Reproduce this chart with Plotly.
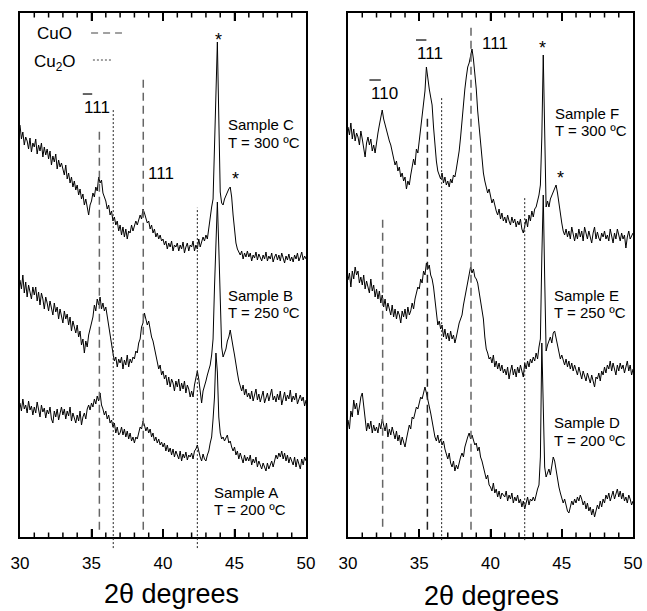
import numpy as np
import plotly.graph_objects as go

# 2-theta grid (degrees)
two_theta = np.round(np.arange(30.0, 50.0001, 0.1), 1).tolist()

# ---- Left panel: intensities (arb. units, offset per sample) ----
sample_c = [412, 398, 405, 392, 400, 396, 388, 399, 385, 394,
            390, 398, 383, 392, 386, 394, 380, 390, 382, 388,
            378, 386, 372, 381, 375, 383, 368, 377, 370, 374,
            368, 362, 372, 358, 364, 354, 360, 350, 356, 347,
            352, 342, 348, 338, 343, 332, 338, 328, 322, 332,
            336, 344, 340, 350, 346, 360, 354, 357, 344, 340,
            336, 328, 332, 322, 326, 316, 320, 312, 316, 306,
            312, 302, 310, 300, 308, 298, 306, 304, 312, 306,
            310, 316, 312, 318, 322, 318, 328, 324, 320, 314,
            316, 308, 312, 304, 308, 300, 304, 298, 302, 296,
            298, 292, 296, 288, 294, 290, 296, 286, 292, 290,
            294, 286, 292, 288, 295, 284, 290, 294, 286, 292,
            290, 296, 286, 292, 288, 298, 290, 294, 300, 296,
            302, 298, 310, 318, 330, 338, 400, 462, 495, 420,
            345, 334, 332, 338, 342, 346, 348, 350, 340, 322,
            305, 294, 288, 284, 282, 286, 278, 284, 280, 286,
            280, 284, 276, 282, 279, 285, 277, 283, 279, 276,
            282, 278, 285, 276, 281, 278, 284, 275, 280, 283,
            277, 282, 276, 284, 279, 274, 281, 277, 283, 276,
            280, 275, 282, 278, 284, 276, 280, 285, 277, 281,
            278]

sample_b = [257, 248, 262, 244, 255, 240, 252, 246, 238, 250,
            242, 250, 236, 245, 232, 244, 238, 228, 240, 234,
            226, 236, 230, 222, 234, 225, 230, 218, 228, 222,
            214, 226, 218, 223, 212, 220, 206, 216, 210, 204,
            212, 200, 206, 192, 198, 184, 196, 190, 202, 208,
            214, 220, 232, 226, 238, 232, 240, 228, 234, 226,
            230, 220, 212, 200, 192, 184, 176, 180, 170, 178,
            174, 180, 168, 177, 172, 182, 170, 178, 174, 180,
            178, 186, 184, 194, 198, 210, 214, 224, 218, 212,
            216, 206, 200, 196, 188, 182, 176, 168, 172, 162,
            166, 158, 162, 152, 160, 150, 158, 154, 146, 156,
            150, 158, 146, 154, 148, 156, 144, 152, 148, 140,
            146, 140, 152, 160, 166, 158, 142, 134, 146, 150,
            156, 162, 166, 172, 182, 198, 250, 300, 335, 290,
            230, 190, 180, 184, 188, 196, 200, 207, 200, 190,
            182, 170, 164, 156, 150, 146, 152, 142, 148, 140,
            144, 138, 146, 136, 142, 148, 137, 143, 135, 141,
            146, 134, 140, 144, 136, 142, 148, 137, 141, 135,
            143, 137, 146, 132, 140, 145, 136, 142, 138, 147,
            135, 141, 137, 144, 133, 139, 142, 136, 140, 131,
            137]

sample_a = [134, 126, 138, 128, 132, 124, 136, 127, 131, 122,
            130, 124, 135, 126, 120, 132, 125, 129, 119, 127,
            123, 130, 118, 114, 126, 120, 128, 117, 124, 130,
            122, 128, 118, 126, 121, 130, 116, 124, 119, 114,
            122, 116, 126, 112, 120, 124, 118, 128, 132, 127,
            134, 130, 138, 133, 141, 136, 144, 132, 128, 122,
            126, 118, 122, 114, 117, 110, 114, 104, 110, 102,
            104, 110, 102, 108, 100, 106, 98, 104, 96, 100,
            94, 100, 98, 106, 110, 108, 116, 112, 106, 110,
            104, 108, 100, 104, 96, 100, 94, 98, 92, 95,
            90, 94, 86, 92, 85, 89, 82, 88, 80, 86,
            82, 78, 86, 76, 83, 79, 85, 77, 82, 80,
            84, 78, 86, 88, 92, 84, 80, 76, 83, 78,
            76, 82, 86, 94, 100, 118, 140, 184, 165, 120,
            104, 98, 100, 96, 100, 102, 94, 96, 90, 86,
            90, 82, 86, 78, 84, 80, 74, 82, 76, 80,
            76, 82, 72, 78, 74, 80, 70, 76, 72, 68,
            74, 70, 66, 74, 68, 72, 76, 70, 78, 82,
            78, 84, 80, 86, 78, 84, 76, 82, 74, 80,
            76, 72, 80, 70, 78, 74, 68, 78, 72, 80,
            76]

# ---- Right panel ----
sample_f = [410, 402, 414, 398, 408, 396, 404, 400, 392, 406,
            398, 388, 380, 394, 400, 392, 398, 386, 392, 384,
            396, 404, 412, 420, 427, 418, 412, 406, 400, 396,
            392, 386, 380, 372, 376, 366, 370, 360, 364, 356,
            360, 348, 356, 352, 362, 370, 378, 372, 388, 384,
            396, 404, 418, 428, 446, 470, 456, 448, 440, 432,
            410, 392, 376, 366, 362, 358, 364, 354, 360, 352,
            356, 350, 358, 354, 362, 360, 368, 376, 386, 400,
            418, 436, 448, 460, 470, 474, 480, 488, 478, 466,
            448, 426, 410, 392, 378, 364, 356, 350, 344, 348,
            340, 334, 338, 330, 326, 322, 328, 318, 324, 316,
            320, 314, 322, 316, 312, 320, 314, 318, 310, 316,
            312, 318, 308, 304, 312, 318, 310, 322, 316, 326,
            320, 328, 330, 336, 342, 352, 400, 482, 390, 330,
            336, 330, 338, 342, 346, 350, 352, 344, 332, 322,
            314, 306, 302, 308, 300, 306, 298, 310, 302, 296,
            304, 298, 308, 300, 306, 296, 310, 302, 298, 306,
            300, 294, 304, 310, 298, 305, 299, 296, 304, 300,
            306, 298, 302, 296, 308, 300, 294, 304, 298, 308,
            300, 296, 304, 298, 302, 289, 300, 306, 298, 302,
            304]

sample_e = [257, 264, 250, 266, 258, 270, 262, 266, 254, 260,
            252, 262, 248, 256, 250, 244, 258, 246, 252, 240,
            248, 238, 246, 234, 242, 230, 238, 226, 234, 228,
            222, 232, 220, 228, 218, 226, 222, 214, 226, 220,
            228, 218, 230, 222, 226, 234, 228, 238, 244, 250,
            248, 258, 254, 266, 262, 274, 268, 272, 262, 258,
            250, 236, 222, 212, 216, 208, 212, 200, 208, 198,
            204, 196, 206, 198, 202, 194, 200, 208, 214, 218,
            222, 232, 240, 248, 256, 262, 270, 264, 268, 260,
            258, 254, 246, 236, 226, 218, 200, 188, 184, 178,
            180, 174, 182, 170, 176, 168, 174, 166, 172, 164,
            168, 162, 170, 158, 166, 172, 162, 168, 160, 170,
            164, 172, 166, 160, 174, 168, 176, 170, 178, 174,
            180, 176, 184, 178, 190, 198, 280, 342, 260, 186,
            192, 196, 200, 194, 204, 206, 198, 192, 184, 178,
            182, 176, 172, 178, 170, 176, 168, 174, 166, 172,
            168, 162, 170, 164, 158, 166, 160, 156, 164, 158,
            154, 162, 156, 150, 160, 158, 164, 156, 166, 162,
            170, 164, 172, 168, 176, 166, 174, 168, 162, 172,
            166, 174, 168, 172, 164, 170, 176, 166, 172, 162,
            168]

sample_d = [117, 108, 126, 120, 137, 128, 134, 122, 130, 140,
            144, 130, 120, 106, 114, 108, 116, 104, 112, 106,
            110, 104, 114, 108, 118, 112, 106, 114, 100, 108,
            102, 110, 104, 98, 106, 96, 102, 92, 100, 94,
            90, 98, 104, 112, 108, 120, 118, 126, 130, 128,
            134, 140, 138, 146, 150, 144, 138, 130, 124, 116,
            106, 100, 96, 102, 94, 98, 92, 96, 88, 84,
            78, 84, 74, 70, 76, 66, 72, 68, 76, 80,
            84, 80, 90, 96, 100, 104, 98, 102, 96, 92,
            94, 86, 90, 80, 76, 70, 64, 58, 62, 52,
            50, 46, 54, 44, 48, 40, 46, 38, 44, 42,
            40, 46, 36, 42, 38, 44, 34, 40, 36, 42,
            34, 38, 30, 36, 28, 34, 40, 32, 38, 36,
            40, 36, 44, 48, 52, 80, 194, 140, 70, 60,
            64, 68, 62, 74, 80, 76, 66, 58, 50, 44,
            40, 34, 38, 30, 26, 24, 30, 36, 32, 38,
            34, 40, 36, 42, 38, 32, 36, 28, 34, 26,
            30, 22, 28, 20, 26, 32, 28, 36, 30, 38,
            34, 42, 38, 44, 36, 40, 46, 38, 42, 48,
            40, 46, 38, 44, 36, 40, 34, 42, 38, 32,
            36]

# reference peak positions (2-theta)
cuo_left = [35.55, 38.62]
cu2o_left = [36.52, 42.4]
cuo_right = [32.43, 35.57, 38.63]
cu2o_right = [36.57, 42.4]

tick_vals = [30, 35, 40, 45, 50]
major_inner_ticks = [35, 40, 45]
minor_inner_ticks = [31, 32, 33, 34, 36, 37, 38, 39, 41, 42, 43, 44, 46, 47, 48, 49]

FONT = "Arial"
Y_BOT, Y_TOP = 0.1211, 0.9787

fig = go.Figure()
for ys in (sample_c, sample_b, sample_a):
    fig.add_trace(go.Scatter(x=two_theta, y=ys, mode="lines",
                             line=dict(color="black", width=1),
                             xaxis="x", yaxis="y", showlegend=False))
for ys in (sample_f, sample_e, sample_d):
    fig.add_trace(go.Scatter(x=two_theta, y=ys, mode="lines",
                             line=dict(color="black", width=1),
                             xaxis="x2", yaxis="y2", showlegend=False))

shapes = []
def vline(xref, x, ytop, ybot, dash, color, width):
    shapes.append(dict(type="line", xref=xref, yref="paper", x0=x, x1=x,
                       y0=ybot, y1=ytop,
                       line=dict(color=color, width=width, dash=dash)))

CUO_DASH = "8px,5px"
CU2O_DOT = "2px,2px"
# left panel
vline("x", cuo_left[0], 0.787, 0.133, CUO_DASH, "#666666", 1.5)
vline("x", cuo_left[1], 0.874, 0.133, CUO_DASH, "#666666", 1.5)
vline("x", cu2o_left[0], 0.823, 0.103, CU2O_DOT, "#222222", 1)
vline("x", cu2o_left[1], 0.660, 0.103, CU2O_DOT, "#222222", 1)
# right panel
vline("x2", cuo_right[0], 0.648, 0.138, CUO_DASH, "#666666", 1.5)
vline("x2", cuo_right[1], 0.807, 0.133, CUO_DASH, "#222222", 1.5)
vline("x2", cuo_right[2], 0.959, 0.133, CUO_DASH, "#666666", 1.5)
vline("x2", cu2o_right[0], 0.841, 0.116, CU2O_DOT, "#222222", 1)
vline("x2", cu2o_right[1], 0.678, 0.116, CU2O_DOT, "#222222", 1)

# inward tick marks on top and bottom frame edges (placed through the x scales)
MAJ_LEN = 8 / 611
MIN_LEN = 4.5 / 611
for xr in ("x", "x2"):
    for v, ln in [(t, MAJ_LEN) for t in major_inner_ticks] + [(t, MIN_LEN) for t in minor_inner_ticks]:
        shapes.append(dict(type="line", xref=xr, yref="paper", x0=v, x1=v,
                           y0=Y_BOT, y1=Y_BOT + ln, line=dict(color="black", width=1.5)))
        shapes.append(dict(type="line", xref=xr, yref="paper", x0=v, x1=v,
                           y0=Y_TOP, y1=Y_TOP - ln, line=dict(color="black", width=1.5)))

# legend sample lines
shapes.append(dict(type="line", xref="x", yref="y", x0=34.97, x1=37.13, y0=504, y1=504,
                   line=dict(color="#444444", width=1.2, dash="7px,5px")))
shapes.append(dict(type="line", xref="x", yref="y", x0=35.1, x1=36.5, y0=477, y1=477,
                   line=dict(color="#444444", width=1, dash="2px,2px")))
# overbars for Miller indices
for xr, yr, a, b, h in [("x", "y", 34.39, 35.05, 443),
                        ("x2", "y2", 31.5, 32.3, 457),
                        ("x2", "y2", 34.77, 35.5, 497)]:
    shapes.append(dict(type="line", xref=xr, yref=yr, x0=a, x1=b, y0=h, y1=h,
                       line=dict(color="black", width=1.2)))

ann = []
def txt(xref, yref, x, y, s, size, xanchor="center"):
    ann.append(dict(xref=xref, yref=yref, x=x, y=y, text=s, showarrow=False,
                    xanchor=xanchor, yanchor="middle",
                    font=dict(family=FONT, size=size, color="black")))

# left panel labels
txt("x", "y", 32.38, 504, "CuO", 17)
txt("x", "y", 32.45, 474, "Cu<sub>2</sub>O", 17)
txt("x", "y", 35.4, 430, "111", 17)
txt("x", "y", 39.85, 364, "111", 17)
txt("x", "y", 43.85, 497, "*", 18)
txt("x", "y", 45.1, 358, "*", 18)
txt("x", "y", 44.41, 413, "Sample C", 15, "left")
txt("x", "y", 44.41, 395, "T = 300 ºC", 15, "left")
txt("x", "y", 44.41, 242, "Sample B", 15, "left")
txt("x", "y", 44.41, 225, "T = 250 ºC", 15, "left")
txt("x", "y", 43.43, 45, "Sample A", 15, "left")
txt("x", "y", 43.43, 28, "T = 200 ºC", 15, "left")
# right panel labels
txt("x2", "y2", 32.57, 444, "110", 17)
txt("x2", "y2", 35.75, 484, "111", 17)
txt("x2", "y2", 40.32, 494, "111", 17)
txt("x2", "y2", 43.67, 489, "*", 18)
txt("x2", "y2", 44.88, 359, "*", 18)
txt("x2", "y2", 44.37, 424, "Sample F", 15, "left")
txt("x2", "y2", 44.37, 407, "T = 300 ºC", 15, "left")
txt("x2", "y2", 44.29, 242, "Sample E", 15, "left")
txt("x2", "y2", 44.29, 225, "T = 250 ºC", 15, "left")
txt("x2", "y2", 44.29, 115, "Sample D", 15, "left")
txt("x2", "y2", 44.29, 97, "T = 200 ºC", 15, "left")
# axis titles
txt("paper", "paper", 0.265, 0.028, "2θ degrees", 27)
txt("paper", "paper", 0.759, 0.024, "2θ degrees", 27)

def xcfg(domain):
    return dict(domain=domain, range=[30, 50], showline=True, linewidth=2,
                linecolor="black", mirror="ticks", ticks="inside", ticklen=8,
                tickwidth=1.5, tickcolor="black", tick0=tick_vals[0],
                dtick=tick_vals[1] - tick_vals[0],
                tickfont=dict(family=FONT, size=17, color="black"),
                ticklabelstandoff=10, showgrid=False, zeroline=False)

fig.update_layout(
    width=647, height=611,
    margin=dict(l=0, r=0, t=0, b=0, autoexpand=False),
    plot_bgcolor="white",
    xaxis=dict(**xcfg([0.0309, 0.4730]), anchor="y"),
    yaxis=dict(domain=[Y_BOT, Y_TOP], range=[0, 524], showline=True, linewidth=2,
               linecolor="black", mirror=True, ticks="", showticklabels=False,
               showgrid=False, zeroline=False, anchor="x"),
    xaxis2=dict(**xcfg([0.5379, 0.9784]), anchor="y2"),
    yaxis2=dict(domain=[Y_BOT, Y_TOP], range=[0, 524], showline=True, linewidth=2,
                linecolor="black", mirror=True, ticks="", showticklabels=False,
                showgrid=False, zeroline=False, anchor="x2"),
    shapes=shapes, annotations=ann,
)

fig.write_html("out.html")
